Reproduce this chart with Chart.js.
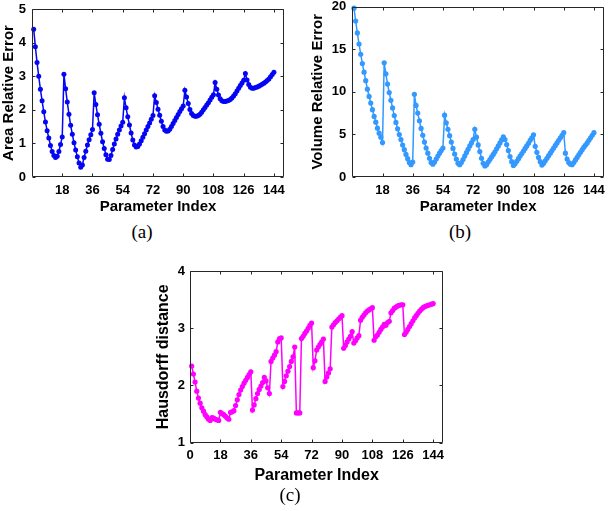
<!DOCTYPE html>
<html>
<head>
<meta charset="utf-8">
<script src="https://cdn.jsdelivr.net/npm/chart.js@4.4.1/dist/chart.umd.min.js"></script>
<style>
  html, body { margin: 0; padding: 0; background: #ffffff; width: 608px; height: 511px; overflow: hidden; }
  canvas { position: absolute; }
  .cap { position: absolute; font-family: "Liberation Serif", "DejaVu Serif", serif; font-size: 19px; color: #000;
         transform: translate(-50%, -50%); white-space: nowrap; line-height: 1; }
</style>
</head>
<body>
<canvas id="chartA" width="300" height="216" style="left:0px;top:0px"></canvas>
<canvas id="chartB" width="308" height="216" style="left:300px;top:0px"></canvas>
<canvas id="chartC" width="330" height="225" style="left:140px;top:260px"></canvas>
<div class="cap" style="left:142px;top:231px">(a)</div>
<div class="cap" style="left:460px;top:231px">(b)</div>
<div class="cap" style="left:290px;top:494px">(c)</div>
<script>
// ---------- data ----------
const paramIndex = [
  1,2,3,4,5,6,7,8,9,10,11,12,13,14,15,16,17,18,
  19,20,21,22,23,24,25,26,27,28,29,30,31,32,33,34,35,36,
  37,38,39,40,41,42,43,44,45,46,47,48,49,50,51,52,53,54,
  55,56,57,58,59,60,61,62,63,64,65,66,67,68,69,70,71,72,
  73,74,75,76,77,78,79,80,81,82,83,84,85,86,87,88,89,90,
  91,92,93,94,95,96,97,98,99,100,101,102,103,104,105,106,107,108,
  109,110,111,112,113,114,115,116,117,118,119,120,121,122,123,124,125,126,
  127,128,129,130,131,132,133,134,135,136,137,138,139,140,141,142,143,144
];

const areaRelativeError = [
  4.40,3.88,3.41,3.00,2.61,2.27,1.94,1.64,1.38,1.16,0.94,0.76,0.64,0.58,0.62,0.76,0.97,1.19,
  3.06,2.63,2.23,1.87,1.54,1.27,1.02,0.80,0.60,0.42,0.29,0.36,0.58,0.77,0.95,1.11,1.26,1.41,
  2.51,2.16,1.85,1.57,1.30,1.05,0.85,0.66,0.53,0.52,0.64,0.82,0.98,1.13,1.27,1.40,1.52,1.63,
  2.36,2.06,1.79,1.55,1.31,1.10,0.95,0.89,0.91,0.98,1.08,1.18,1.29,1.40,1.50,1.61,1.72,1.83,
  2.42,2.22,2.02,1.84,1.66,1.50,1.40,1.36,1.37,1.42,1.50,1.59,1.68,1.77,1.86,1.95,2.03,2.11,
  2.58,2.38,2.19,2.01,1.89,1.83,1.81,1.81,1.83,1.87,1.93,2.00,2.07,2.14,2.21,2.29,2.37,2.45,
  2.81,2.61,2.44,2.33,2.27,2.25,2.25,2.26,2.28,2.31,2.35,2.41,2.48,2.56,2.64,2.72,2.80,2.88,
  3.08,2.89,2.75,2.67,2.64,2.64,2.66,2.68,2.70,2.73,2.76,2.79,2.83,2.87,2.92,2.98,3.05,3.12
];

const volumeRelativeError = [
  19.8,18.3,16.9,15.6,14.4,13.3,12.3,11.3,10.3,9.45,8.67,7.9,7.1,6.43,5.73,5.14,4.67,4.04,
  13.4,12.1,10.9,9.9,9.0,8.1,7.2,6.4,5.65,4.98,4.39,3.75,3.2,2.65,2.15,1.7,1.45,1.75,
  9.7,8.4,7.5,6.6,5.7,4.9,4.1,3.4,2.8,2.2,1.7,1.5,1.75,2.1,2.45,2.8,3.1,3.4,
  7.25,6.35,5.6,4.85,4.1,3.35,2.7,2.1,1.6,1.45,1.7,2.05,2.45,2.85,3.25,3.65,4.0,4.4,
  5.6,4.67,3.76,2.98,2.2,1.61,1.3,1.45,1.75,2.05,2.35,2.65,2.95,3.3,3.65,4.0,4.35,4.7,
  4.4,3.8,3.1,2.4,1.8,1.35,1.55,1.85,2.15,2.45,2.75,3.05,3.35,3.65,3.95,4.3,4.6,4.95,
  3.6,2.9,2.3,1.8,1.4,1.6,1.9,2.2,2.5,2.8,3.1,3.4,3.7,4.0,4.3,4.6,4.9,5.2,
  2.8,2.1,1.7,1.5,1.45,1.7,2.0,2.3,2.6,2.9,3.2,3.5,3.75,4.0,4.3,4.6,4.9,5.2
];

const hausdorffDistance = [
  2.34,2.20,2.06,1.90,1.78,1.69,1.61,1.55,1.49,1.45,1.41,1.39,1.44,1.43,1.41,1.40,1.39,1.53,
  1.51,1.49,1.46,1.43,1.41,1.53,1.54,1.56,1.65,1.75,1.84,1.92,1.98,2.04,2.09,2.14,2.19,2.24,
  1.57,1.66,1.77,1.86,1.93,1.99,2.05,2.14,2.08,1.96,1.86,2.42,2.48,2.53,2.59,2.76,2.82,2.83,
  1.98,2.07,2.17,2.25,2.33,2.42,2.50,2.67,1.52,1.52,1.52,2.82,2.86,2.91,2.95,3.00,3.05,3.09,
  2.31,2.43,2.62,2.67,2.72,2.76,2.81,2.07,2.15,2.22,2.29,3.02,3.06,3.10,3.13,3.16,3.19,3.22,
  2.65,2.70,2.76,2.81,2.86,2.94,2.74,2.78,2.83,2.87,3.14,3.19,3.23,3.27,3.30,3.32,3.34,3.36,
  2.79,2.85,2.88,2.93,2.98,3.02,3.07,3.05,3.10,3.12,3.27,3.31,3.35,3.37,3.39,3.40,3.41,3.41,
  2.89,2.93,2.98,3.03,3.08,3.13,3.18,3.22,3.26,3.30,3.33,3.36,3.38,3.39,3.40,3.41,3.42,3.43
];

const xTicksAB = [18, 36, 54, 72, 90, 108, 126, 144];
const xTicksC  = [0, 18, 36, 54, 72, 90, 108, 126, 144];
const yTicksA  = [0, 1, 2, 3, 4, 5];
const yTicksB  = [0, 5, 10, 15, 20];
const yTicksC  = [1, 2, 3, 4];

const xTitle = 'Parameter Index';
const yTitleA = 'Area Relative Error';
const yTitleB = 'Volume Relative Error';
const yTitleC = 'Hausdorff distance';

// ---------- drawing ----------
const SANS = "'Liberation Sans', Arial, Helvetica, sans-serif";

const boxPlugin = {
  id: 'matlabBox',
  afterDatasetsDraw(chart) {
    const { ctx, chartArea: a, scales: { x, y } } = chart;
    const L = 3;
    ctx.save();
    ctx.strokeStyle = '#262626';
    ctx.lineWidth = 1;
    ctx.beginPath();
    const l = Math.round(a.left) + 0.5, r = Math.round(a.right) - 0.5;
    const t = Math.round(a.top) + 0.5, b = Math.round(a.bottom) - 0.5;
    ctx.rect(l, t, r - l, b - t);
    x.ticks.forEach(tk => {
      const px = Math.round(x.getPixelForValue(tk.value)) + 0.5;
      ctx.moveTo(px, b); ctx.lineTo(px, b - L);
      ctx.moveTo(px, t); ctx.lineTo(px, t + L);
    });
    y.ticks.forEach(tk => {
      const py = Math.round(y.getPixelForValue(tk.value)) + 0.5;
      ctx.moveTo(l, py); ctx.lineTo(l + L, py);
      ctx.moveTo(r, py); ctx.lineTo(r - L, py);
    });
    ctx.stroke();
    ctx.restore();
  }
};

function makeChart(id, c) {
  const tickFont = { family: SANS, size: 13, weight: 'bold' };
  const titleFont = { family: SANS, size: c.titleSize, weight: 'bold' };
  return new Chart(document.getElementById(id), {
    type: 'line',
    data: {
      datasets: [{
        data: paramIndex.map((v, k) => ({ x: v, y: c.values[k] })),
        borderColor: c.color,
        backgroundColor: c.color,
        borderWidth: 1.5,
        pointRadius: c.radius,
        pointBorderWidth: 0,
        pointHoverRadius: c.radius,
        tension: 0,
        clip: false
      }]
    },
    options: {
      responsive: false,
      animation: false,
      devicePixelRatio: 1,
      events: [],
      layout: { padding: c.pad },
      plugins: { legend: { display: false }, tooltip: { enabled: false }, title: { display: false } },
      scales: {
        x: {
          type: 'linear', min: 0, max: 150,
          grid: { display: false, drawTicks: false },
          border: { display: false },
          afterBuildTicks: s => { s.ticks = c.xTicks.map(v => ({ value: v })); },
          ticks: { autoSkip: false, maxRotation: 0, minRotation: 0, padding: c.xTickPad, color: '#000', font: tickFont,
                   callback: v => String(v) },
          title: { display: true, text: xTitle, color: '#000', font: titleFont, padding: { top: 0, bottom: 0 } },
          afterFit: s => { s.height = c.xH; s.paddingLeft = 0; s.paddingRight = 0; }
        },
        y: {
          type: 'linear', min: c.yMin, max: c.yMax,
          grid: { display: false, drawTicks: false },
          border: { display: false },
          afterBuildTicks: s => { s.ticks = c.yTicks.map(v => ({ value: v })); },
          ticks: { autoSkip: false, padding: c.yTickPad, color: '#000', font: tickFont, callback: v => String(v) },
          title: { display: true, text: c.yTitle, color: '#000', font: titleFont, padding: { top: c.yTitlePad, bottom: 0 } },
          afterFit: s => { s.width = c.yW; s.paddingTop = 0; s.paddingBottom = 0; }
        }
      }
    },
    plugins: [boxPlugin]
  });
}

makeChart('chartA', {
  values: areaRelativeError, color: '#0505f5', radius: 2.5,
  pad: { left: 0, top: 9, right: 16, bottom: 0 },
  xTicks: xTicksAB, yTicks: yTicksA, yMin: 0, yMax: 5,
  yTitle: yTitleA, titleSize: 15, yTitlePad: 0,
  yW: 32, xH: 39, xTickPad: 5.5, yTickPad: 6
});

makeChart('chartB', {
  values: volumeRelativeError, color: '#3399ff', radius: 2.6,
  pad: { left: 0, top: 6.5, right: 4, bottom: 0 },
  xTicks: xTicksAB, yTicks: yTicksB, yMin: 0, yMax: 20,
  yTitle: yTitleB, titleSize: 15, yTitlePad: 9.3,
  yW: 52.3, xH: 39, xTickPad: 5.5, yTickPad: 6
});

makeChart('chartC', {
  values: hausdorffDistance, color: '#ff00ff', radius: 2.6,
  pad: { left: 14, top: 11, right: 26.7, bottom: 0 },
  xTicks: xTicksC, yTicks: yTicksC, yMin: 1, yMax: 4,
  yTitle: yTitleC, titleSize: 16, yTitlePad: 0,
  yW: 36, xH: 42.3, xTickPad: 4.5, yTickPad: 5
});
</script>
</body>
</html>
